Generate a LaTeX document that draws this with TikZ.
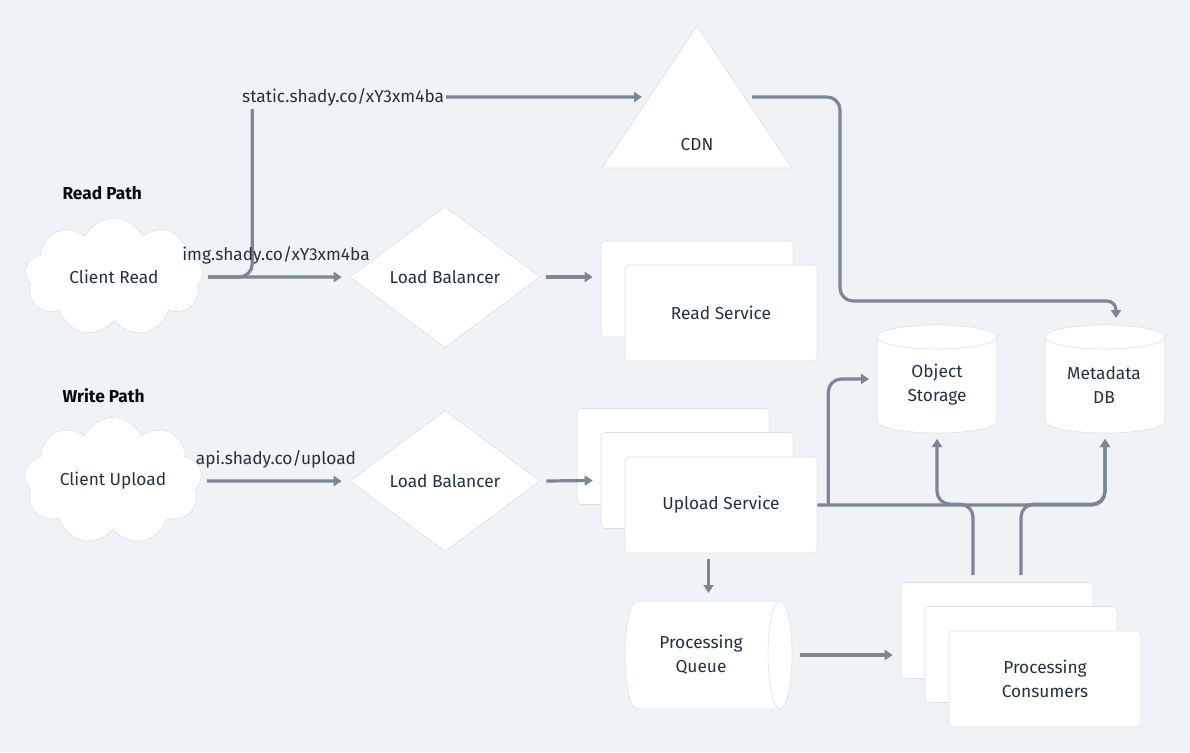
\documentclass[tikz,border=0pt]{standalone}
\usepackage{fontspec}
\setmainfont{Fira Sans}
\usetikzlibrary{shapes.geometric,shapes.symbols,arrows.meta}
\definecolor{bg}{HTML}{F0F3F6}
\definecolor{ln}{HTML}{7A8795}
\definecolor{tx}{HTML}{243140}
\definecolor{bd}{HTML}{DCE1E6}
\begin{document}
\begin{tikzpicture}[x=1pt,y=-1pt,
  font=\fontsize{17.3}{24}\selectfont, text=tx,
  conn/.style={draw=ln, line width=3.2pt, rounded corners=13pt, -{Triangle[length=8pt,width=10pt]}},
  card/.style={rectangle, rounded corners=4pt, fill=white, draw=bd, line width=0.6pt, inner sep=0, minimum width=192pt, minimum height=96pt},
  frame/.style={inner sep=0, outer sep=0},
  shapeline/.style={fill=white, draw=bd, line width=0.6pt},
  heading/.style={font=\fontsize{17.3}{19}\selectfont\bfseries, anchor=west, text=black!80!tx},
  cloudbox/.style={cloud, cloud puffs=9, cloud puff arc=130, aspect=1.5, fill=white, draw=bd, line width=0.6pt, minimum width=178pt, minimum height=118pt, inner sep=0},
  lbbox/.style={diamond, fill=white, draw=bd, line width=0.6pt, minimum width=190pt, minimum height=141pt, inner sep=0},
  lbl/.style={inner sep=2pt}
]
\fill[bg] (0,0) rectangle (1190,752);
\useasboundingbox (0,0) rectangle (1190,752);

% headings
\node[heading] (hread) at (59,193) {Read Path};
\node[heading] (hwrite) at (59,396) {Write Path};

% read path
\node[cloudbox] (cr) at (114,277) {Client Read};
\node[lbbox] (lb1) at (445,277) {Load Balancer};
\node[card] (rsb) at (697,289) {};
\node[card] (rs) at (721,313) {Read Service};

% CDN
\node[frame, minimum width=190pt, minimum height=142pt] (cdn) at (697,97) {};
\filldraw[shapeline] (cdn.north) -- (cdn.south east) -- (cdn.south west) -- cycle;
\node (cdnl) at (697,145) {CDN};

% write path
\node[cloudbox] (cu) at (113,481) {Client Upload};
\node[lbbox] (lb2) at (445,481) {Load Balancer};
\node[card] (up1) at (673,456.5) {};
\node[card] (up2) at (697,480.5) {};
\node[card] (up3) at (721,505) {Upload Service};

% object storage
\node[frame, minimum width=120pt, minimum height=108pt] (os) at (937,379) {};
\filldraw[shapeline] ([yshift=-12pt]os.north west) -- ([yshift=12pt]os.south west)
  arc[start angle=180, end angle=0, x radius=60, y radius=12]
  -- ([yshift=-12pt]os.north east)
  arc[start angle=0, end angle=-180, x radius=60, y radius=12] -- cycle;
\draw[bd, line width=0.6pt] ([yshift=-12pt]os.north west) arc[start angle=180, end angle=0, x radius=60, y radius=12];
\node[align=center] (osl) at (937,385) {Object\\Storage};

% metadata db
\node[frame, minimum width=120pt, minimum height=108pt] (md) at (1105,379) {};
\filldraw[shapeline] ([yshift=-12pt]md.north west) -- ([yshift=12pt]md.south west)
  arc[start angle=180, end angle=0, x radius=60, y radius=12]
  -- ([yshift=-12pt]md.north east)
  arc[start angle=0, end angle=-180, x radius=60, y radius=12] -- cycle;
\draw[bd, line width=0.6pt] ([yshift=-12pt]md.north west) arc[start angle=180, end angle=0, x radius=60, y radius=12];
\node[align=center] (mdl) at (1104,385) {Metadata\\DB};

% processing queue
\node[frame, minimum width=167pt, minimum height=108pt] (qb) at (708.5,655) {};
\filldraw[shapeline] ([xshift=12pt]qb.north west) -- ([xshift=-12pt]qb.north east)
  arc[start angle=-90, end angle=90, x radius=12, y radius=54]
  -- ([xshift=12pt]qb.south west)
  arc[start angle=90, end angle=270, x radius=12, y radius=54] -- cycle;
\draw[bd, line width=0.6pt] ([xshift=-12pt]qb.north east) arc[start angle=-90, end angle=-270, x radius=12, y radius=54];
\node[align=center] (ql) at (701,655) {Processing\\Queue};

% processing consumers
\node[card] (c1) at (997,630.5) {};
\node[card] (c2) at (1021,654.5) {};
\node[card, align=center] (c3) at (1045,679) {Processing\\Consumers};

% connectors: read path
\draw[conn] ([xshift=6pt]cr.east) -- ([xshift=-8pt]lb1.west);
\draw[conn] ([xshift=6pt]cr.east) -- ++(44,0) |- ([xshift=-55pt]cdn.center);
\node[lbl, fill=bg, anchor=west, minimum height=24pt] (slbl) at (240,97) {static.shady.co/xY3xm4ba};
\node[lbl] (ilbl) at (276,255) {img.shady.co/xY3xm4ba};
\draw[conn] ([xshift=6pt]lb1.east) -- ([xshift=-8pt]lb1.east -| rsb.west);
\draw[conn] ([xshift=55pt]cdn.center) -- ++(88,0) -- ++(0,204) [rounded corners=9pt] -| ([xshift=11pt,yshift=7pt]md.north);

% connectors: write path
\draw[conn] ([xshift=6pt]cu.east) -- ([xshift=-8pt]lb2.west);
\node[lbl] (albl) at (276,459) {api.shady.co/upload};
\draw[conn] ([xshift=6pt]lb2.east) -- ([xshift=-8pt]up2.west);
\draw[conn] (up3.east) -| ([yshift=-6pt]md.south);
\draw[conn] ([xshift=11pt]up3.east) |- ([xshift=-8pt]os.west);
\draw[conn] ([xshift=-24pt,yshift=7pt]c1.north) -- ++(0,-71) -| ([yshift=-6pt]os.south);
\draw[conn] ([xshift=24pt,yshift=7pt]c1.north) -- ++(0,-71) -| ([yshift=-6pt]md.south);
\draw[conn] ([yshift=-6pt]up3.south -| qb.north) -- ([yshift=8pt]qb.north);
\draw[conn] ([xshift=8pt]qb.east) -- ([xshift=-8pt]qb.east -| c1.west);
\end{tikzpicture}
\end{document}
